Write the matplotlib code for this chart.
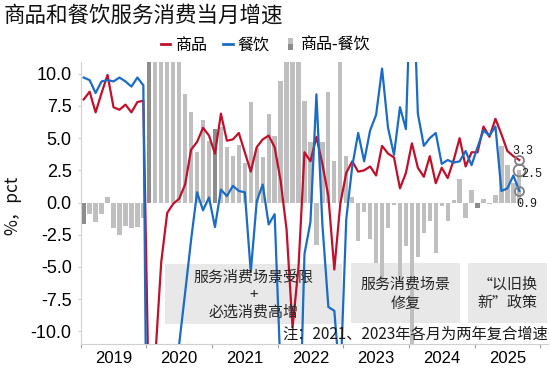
import matplotlib
matplotlib.use("Agg")
import matplotlib.pyplot as plt
import numpy as np
from matplotlib.patches import Rectangle
from matplotlib.lines import Line2D
from matplotlib.legend_handler import HandlerBase
from matplotlib.font_manager import FontProperties

CJK = ["Noto Sans CJK SC", "DejaVu Sans"]
NUM = ["Liberation Sans", "DejaVu Sans"]
plt.rcParams["font.family"] = CJK

# ---------------- data (11 periods per year: Jan-Feb, Mar ... Dec) ----------------
years = ["2019", "2020", "2021", "2022", "2023", "2024", "2025"]
periods_per_year = 11
dark_janfeb_years = ["2019", "2020", "2021", "2025"]

goods_2019 = [8.0, 8.6, 7.0, 8.5, 9.9, 7.4, 7.2, 7.6, 7.0, 7.8, 7.9]
goods_2020 = [-17.6, -12.0, -4.6, -0.8, -0.1, 0.3, 1.4, 4.1, 4.7, 5.8, 5.2]
goods_2021 = [3.8, 6.9, 4.8, 4.9, 5.4, 3.9, 2.4, 4.3, 4.9, 5.2, 4.3]
goods_2022 = [1.7, -2.1, -9.7, -5.0, 3.9, 3.2, 5.1, 3.0, 0.5, -5.2, -0.1]
goods_2023 = [2.3, 3.2, 2.4, 2.5, 2.8, 2.1, 4.4, 3.8, 3.5, 1.1, 2.3]
goods_2024 = [4.6, 2.7, 2.0, 3.6, 1.5, 2.7, 1.9, 3.3, 5.0, 2.8, 3.9]
goods_2025 = [3.9, 5.9, 5.1, 6.5, 5.3, 4.0, 3.6, 3.3]

catering_2019 = [9.7, 9.5, 8.5, 9.4, 9.5, 9.4, 9.7, 9.4, 9.0, 9.7, 9.1]
catering_2020 = [-43.1, -46.8, -31.1, -18.9, -15.2, -11.0, -7.0, -2.9, 0.8, -0.6, 0.4]
catering_2021 = [-1.9, 1.0, 0.5, 1.3, 0.9, 0.8, -5.4, 0.1, 1.4, -1.7, -0.9]
catering_2022 = [-13.2, -16.4, -22.7, -21.1, -4.0, -1.5, 8.4, -1.7, -8.1, -8.4, -14.1]
catering_2023 = [-1.3, 2.8, 5.4, 3.2, 5.6, 6.8, 10.4, 5.8, 3.7, 7.4, 5.7]
catering_2024 = [20.0, 6.9, 4.4, 5.0, 5.4, 3.0, 3.3, 3.1, 3.2, 4.0, 2.9]
catering_2025 = [4.3, 5.6, 5.2, 5.9, 0.9, 1.1, 2.1, 0.9]

gap_2019 = [-1.7, -0.9, -1.5, -0.9, 0.4, -2.0, -2.5, -1.8, -2.0, -1.9, -1.2]
gap_2020 = [25.5, 34.8, 26.5, 18.1, 15.1, 11.3, 8.4, 7.0, 3.9, 6.4, 4.8]
gap_2021 = [5.7, 5.9, 4.3, 3.6, 4.5, 3.1, 7.8, 4.2, 3.5, 6.9, 5.2]
gap_2022 = [9.4, 14.3, 13.0, 16.1, 7.9, 4.7, -3.3, 4.7, 8.6, 3.2, 14.0]
gap_2023 = [3.6, 0.4, -3.0, -0.7, -2.8, -4.7, -6.0, -2.0, -0.2, -6.3, -3.4]
gap_2024 = [-16.0, -4.2, -2.4, -1.4, -3.9, -0.3, -1.4, 0.2, 1.8, -1.2, 1.0]
gap_2025 = [-0.4, 0.3, -0.1, 0.6, 4.4, 2.9, 1.5, 2.5]

end_labels = ["3.3", "2.5", "0.9"]

title = "商品和餐饮服务消费当月增速"
legend_labels = ["商品", "餐饮", "商品-餐饮"]
ylabel = "%，pct"
note = "注：2021、2023年各月为两年复合增速"
box_texts = [["服务消费场景受限", "+", "必选消费高增"],
             ["服务消费场景", "修复"],
             ["“以旧换", "新”政策"]]

goods = goods_2019 + goods_2020 + goods_2021 + goods_2022 + goods_2023 + goods_2024 + goods_2025
catering = (catering_2019 + catering_2020 + catering_2021 + catering_2022
            + catering_2023 + catering_2024 + catering_2025)
gap = gap_2019 + gap_2020 + gap_2021 + gap_2022 + gap_2023 + gap_2024 + gap_2025

# ---------------- styling ----------------
RED = "#c0102b"
BLUE = "#1a6cc4"
BAR_LIGHT = "#bfbfbf"
BAR_DARK = "#8c8c8c"
BOX = "#e8e8e8"
SPINE = "#d0d0d0"

fig = plt.figure(figsize=(5.5, 3.69), dpi=100)
ax = fig.add_axes([0.1467, 0.0669, 0.8496, 0.7659])

x = np.arange(len(goods))
bar_colors = []
for i in range(len(gap)):
    yr = years[i // periods_per_year]
    dark = (i % periods_per_year == 0) and (yr in dark_janfeb_years)
    bar_colors.append(BAR_DARK if dark else BAR_LIGHT)
ax.bar(x, gap, width=0.72, color=bar_colors, zorder=2, linewidth=0)
ax.plot(x, goods, color=RED, lw=1.6, zorder=3, solid_joinstyle="round")
ax.plot(x, catering, color=BLUE, lw=1.6, zorder=3, solid_joinstyle="round")

ax.set_xlim(-0.5, 77.8)
ax.set_ylim(-11, 10.93)

# annotation boxes (data coords)
boxes = [(13.6, 43.3, -4.75, -9.4), (44.8, 63.0, -4.67, -9.33), (64.4, 77.6, -4.67, -9.33)]
for (x0, x1, y0, y1) in boxes:
    ax.add_patch(Rectangle((x0, y1), x1 - x0, y0 - y1, fc=BOX, ec="none", zorder=1))

line_y = [[-5.84, -7.16, -8.55], [-6.4, -7.85], [-6.4, -7.85]]
for (x0, x1, _, _), lines, ys in zip(boxes, box_texts, line_y):
    for t, yy in zip(lines, ys):
        ax.text((x0 + x1) / 2, yy, t, ha="center", va="center", fontsize=10.8,
                family=CJK, color="#262626", zorder=5)

ax.text(77.75, -10.2, note, ha="right", va="center", fontsize=11, family=CJK,
        color="#1a1a1a", zorder=5)

# end-point circles and labels
last = len(goods) - 1
ax.plot([last], [goods[-1]], "o", ms=6.5, mfc="none", mec="#808080", mew=1.3, zorder=6, clip_on=False)
ax.plot([last], [gap[-1]], "o", ms=8.5, mfc="none", mec="#808080", mew=1.3, zorder=6, clip_on=False)
ax.plot([last], [catering[-1]], "o", ms=6.5, mfc="none", mec="#808080", mew=1.3, zorder=6, clip_on=False)
label_pos = [(73.6, 3.97), (75.1, 2.22), (74.3, -0.1)]
for t, (lx, ly) in zip(end_labels, label_pos):
    ax.text(lx, ly, t, ha="center", va="center", fontsize=8.5,
            family=["Liberation Mono", "DejaVu Sans Mono"], color="#1a1a1a", zorder=6)

# axes styling
for s in ["top", "right"]:
    ax.spines[s].set_visible(False)
ax.spines["left"].set_color(SPINE)
ax.spines["bottom"].set_color(SPINE)

yt = [-10.0, -7.5, -5.0, -2.5, 0.0, 2.5, 5.0, 7.5, 10.0]
ax.set_yticks(yt)
ax.set_yticklabels([f"{v:.1f}" for v in yt], family=NUM, fontsize=13)
ax.tick_params(axis="y", length=2.5, color=SPINE, pad=4)

bounds = [i * periods_per_year - 0.5 for i in range(len(years) + 1)]
centers = [i * periods_per_year + (periods_per_year - 1) / 2 for i in range(len(years))]
ax.set_xticks(bounds)
ax.set_xticklabels([])
ax.set_xticks(centers, minor=True)
ax.set_xticklabels(years, minor=True, family=NUM, fontsize=12)
ax.tick_params(axis="x", which="major", length=3, color="#a0a0a0")
ax.tick_params(axis="x", which="minor", length=0, pad=4.5)

# title / ylabel
fig.text(0.006, 0.957, title, ha="left", va="center", fontsize=15.5, family=CJK, color="#111111")
fig.text(12 / 550, 1 - 205 / 369, ylabel, rotation=90, ha="center", va="center",
         fontsize=12.5, family=CJK, color="#111111")


class TwoTone(HandlerBase):
    def create_artists(self, legend, orig, xd, yd, w, h, fontsize, trans):
        bw = w * 0.55
        x0 = xd + (w - bw) / 2
        r1 = Rectangle((x0, yd + h * 0.5), bw, h * 0.5, fc=BAR_LIGHT, ec="none", transform=trans)
        r2 = Rectangle((x0, yd), bw, h * 0.5, fc=BAR_DARK, ec="none", transform=trans)
        return [r1, r2]


bar_handle = Rectangle((0, 0), 1, 1)
handles = [Line2D([], [], color=RED, lw=2), Line2D([], [], color=BLUE, lw=2), bar_handle]
fig.legend(handles, legend_labels, loc="center", bbox_to_anchor=(0.482, 0.878), ncol=3,
           frameon=False, handlelength=0.6, handletextpad=0.3, columnspacing=1.0,
           prop=FontProperties(family=CJK, size=11.5),
           handler_map={bar_handle: TwoTone()})

fig.savefig("out.png", dpi=100)
